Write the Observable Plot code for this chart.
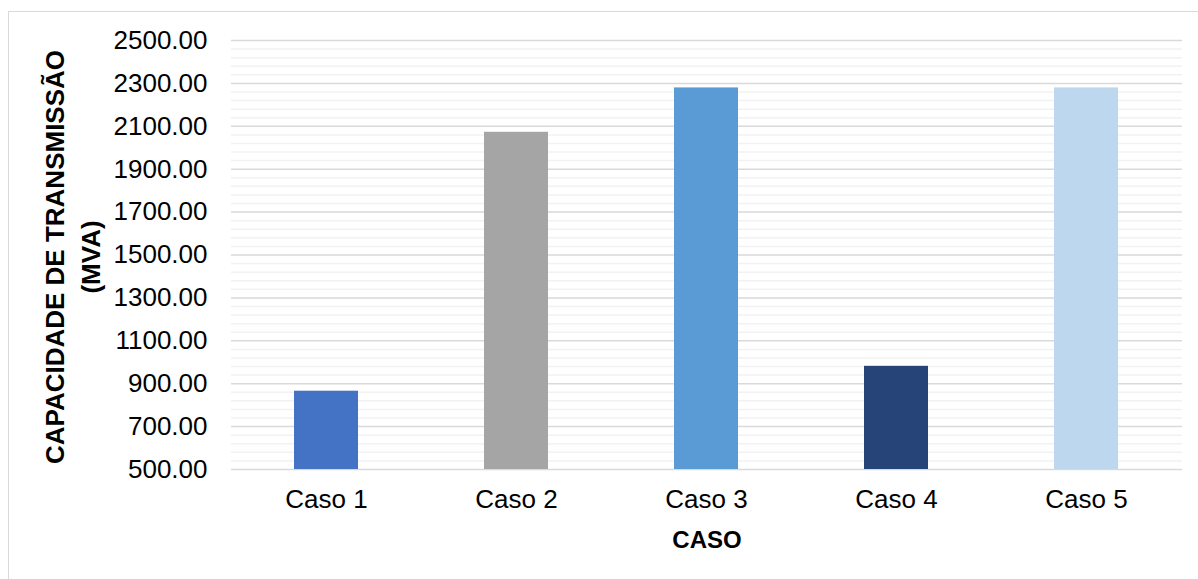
<!DOCTYPE html>
<html>
<head>
<meta charset="utf-8">
<script src="https://cdn.jsdelivr.net/npm/d3@7"></script>
<script src="https://cdn.jsdelivr.net/npm/@observablehq/plot@0.6"></script>
<style>
  html, body { margin: 0; padding: 0; background: #fff; overflow: hidden; }
  #wrap { position: relative; width: 1198px; height: 579px; }
  #border { position: absolute; left: 8px; top: 11px; width: 1300px; height: 700px; border: 1.5px solid #d9d9d9; box-sizing: border-box; }
  #chart { position: absolute; left: 0; top: 0; }
</style>
</head>
<body>
<div id="wrap"><div id="border"></div><div id="chart"></div></div>
<script>
const categories = ["Caso 1", "Caso 2", "Caso 3", "Caso 4", "Caso 5"];
const values = [865, 2072, 2279, 981, 2279];
const colors = ["#4472C4", "#A5A5A5", "#5B9BD5", "#264478", "#BDD7EE"];
const yTicks = [500, 700, 900, 1100, 1300, 1500, 1700, 1900, 2100, 2300, 2500];
const yTitle = "CAPACIDADE DE TRANSMISSÃO\n(MVA)";
const xTitle = "CASO";

const data = categories.map((c, i) => ({caso: c, valor: values[i], cor: colors[i]}));
const minorTicks = d3.range(500, 2501, 40).filter(v => !yTicks.includes(v));

const chart = Plot.plot({
  width: 1198,
  height: 579,
  marginLeft: 231,
  marginRight: 16,
  marginTop: 40,
  marginBottom: 110,
  style: {fontFamily: "'Liberation Sans', Arial, sans-serif", fontSize: "24px", color: "#000", background: "transparent"},
  x: {domain: categories, paddingInner: 0.663, paddingOuter: 0.3315, align: 0.5, label: null},
  y: {domain: [500, 2500], label: null},
  marks: [
    Plot.ruleY(minorTicks, {stroke: "#f2f2f2", strokeWidth: 1.5}),
    Plot.ruleY(yTicks, {stroke: "#d9d9d9", strokeWidth: 1.5}),
    Plot.barY(data, {x: "caso", y1: 500, y2: "valor", fill: "cor"}),
    Plot.axisY({ticks: yTicks, tickFormat: d3.format(".2f"), tickSize: 0, tickPadding: 24, fontSize: 26, label: null}),
    Plot.axisX({tickSize: 0, tickPadding: 20, fontSize: 26, label: null}),
    Plot.text([yTitle], {frameAnchor: "left", rotate: -90, textAnchor: "middle", lineAnchor: "middle", dx: -161, dy: 2, fontWeight: "bold", fontSize: 26, lineHeight: 1.4, fill: "#000"}),
    Plot.text([xTitle], {frameAnchor: "bottom", lineAnchor: "middle", dy: 71, fontWeight: "bold", fontSize: 24, fill: "#000"})
  ]
});
document.getElementById("chart").appendChild(chart);
</script>
</body>
</html>
